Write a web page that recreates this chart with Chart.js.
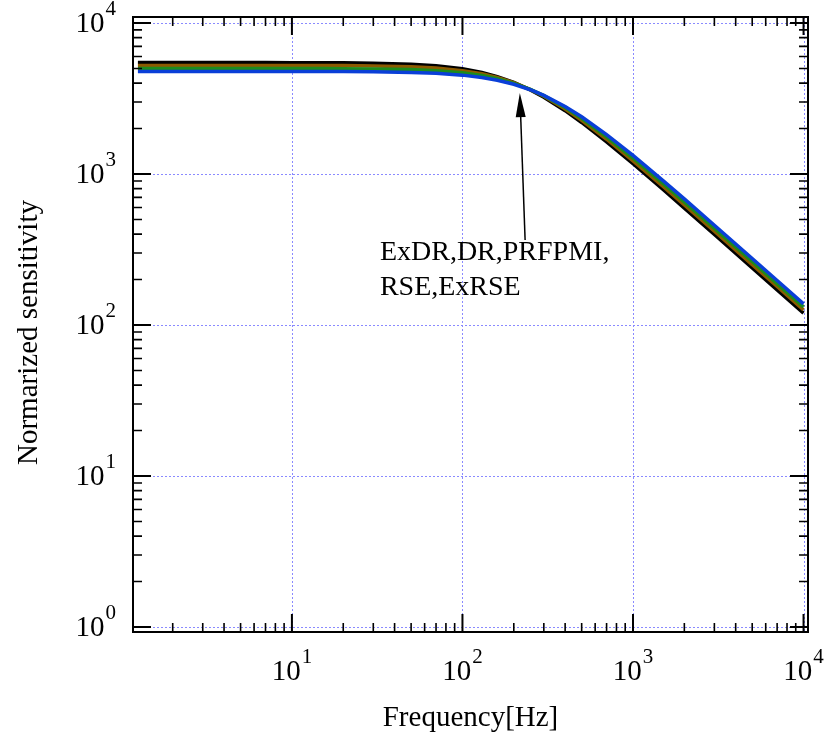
<!DOCTYPE html>
<html>
<head>
<meta charset="utf-8">
<script src="https://cdn.jsdelivr.net/npm/chart.js@4.4.1/dist/chart.umd.min.js"></script>
<style>
html,body{margin:0;padding:0;background:#fff;}
canvas{display:block;}
</style>
</head>
<body>
<canvas id="c" width="828" height="743"></canvas>
<script>
// ---- data ----
const frequencies = [1.25, 2, 3, 5, 7, 10, 15, 20, 30, 50, 70, 100, 130, 160, 200, 250, 300, 400, 500, 700, 1000, 1500, 2000, 3000, 5000, 7000, 10000];
const seriesBlue  = [4780, 4780, 4780, 4779, 4778, 4777, 4774, 4769, 4754, 4710, 4646, 4517, 4359, 4182, 3931, 3615, 3316, 2799, 2392, 1824, 1327, 904, 684, 458, 276, 197, 138];
const seriesGreen = [5000, 5000, 5000, 4999, 4998, 4996, 4992, 4986, 4968, 4913, 4833, 4676, 4486, 4276, 3985, 3630, 3303, 2754, 2335, 1764, 1276, 867, 654, 438, 264, 188, 132];
const seriesBrown = [5240, 5240, 5240, 5239, 5238, 5235, 5230, 5222, 5200, 5130, 5030, 4837, 4607, 4360, 4025, 3629, 3273, 2696, 2267, 1699, 1223, 828, 624, 418, 251, 180, 126];
const seriesBlack = [5470, 5470, 5469, 5469, 5467, 5464, 5457, 5447, 5419, 5333, 5210, 4976, 4704, 4417, 4039, 3604, 3225, 2627, 2195, 1633, 1170, 790, 595, 398, 239, 171, 120];
const seriesNames = ['ExRSE', 'RSE', 'PRFPMI', 'ExDR'];
const xDecades = [1, 2, 3, 4];
const yDecades = [0, 1, 2, 3, 4];
const xTitle = 'Frequency[Hz]';
const yTitle = 'Normarized sensitivity';
const annotationLines = ['ExDR,DR,PRFPMI,', 'RSE,ExRSE'];
const arrowTip = [217, 3435];
const arrowTail = [233, 366];
const textAnchor = [32.8, 270];

const toPts = arr => frequencies.map((f, i) => ({x: f, y: arr[i]}));
const mk = (label, arr, color) => ({
  label, data: toPts(arr), borderColor: color, backgroundColor: color,
  borderWidth: 3.5, pointRadius: 0, tension: 0, fill: false
});

const serif = '"Liberation Serif","Times New Roman",serif';

const decor = {
  id: 'decor',
  beforeDatasetsDraw(chart) {
    const {ctx, chartArea: a, scales: {x, y}} = chart;
    ctx.save();
    ctx.strokeStyle = '#8a8aff';
    ctx.lineWidth = 1;
    ctx.setLineDash([2, 2]);
    xDecades.forEach(d => {
      const px = Math.round(x.getPixelForValue(Math.pow(10, d))) + 0.5;
      ctx.beginPath(); ctx.moveTo(px, a.top); ctx.lineTo(px, a.bottom); ctx.stroke();
    });
    yDecades.forEach(d => {
      const py = Math.round(y.getPixelForValue(Math.pow(10, d))) + 0.5;
      ctx.beginPath(); ctx.moveTo(a.left, py); ctx.lineTo(a.right, py); ctx.stroke();
    });
    ctx.restore();
  },
  afterDatasetsDraw(chart) {
    const {ctx, chartArea: a, scales: {x, y}} = chart;
    ctx.save();
    ctx.strokeStyle = '#000';
    // ticks
    const xmin = x.min, xmax = x.max, ymin = y.min, ymax = y.max;
    for (let d = -1; d <= 5; d++) {
      for (let m = 1; m <= 9; m++) {
        const v = m * Math.pow(10, d);
        const major = m === 1;
        const len = major ? 18 : 9;
        ctx.lineWidth = major ? 2 : 1.6;
        if (v > xmin && v < xmax) {
          const px = x.getPixelForValue(v);
          ctx.beginPath();
          ctx.moveTo(px, a.bottom); ctx.lineTo(px, a.bottom - len);
          ctx.moveTo(px, a.top); ctx.lineTo(px, a.top + len);
          ctx.stroke();
        }
        if (v > ymin && v < ymax) {
          const py = y.getPixelForValue(v);
          ctx.beginPath();
          ctx.moveTo(a.left, py); ctx.lineTo(a.left + len, py);
          ctx.moveTo(a.right, py); ctx.lineTo(a.right - len, py);
          ctx.stroke();
        }
      }
    }
    // frame
    ctx.lineWidth = 2;
    ctx.strokeRect(a.left, a.top, a.right - a.left, a.bottom - a.top);

    // tick labels
    ctx.fillStyle = '#000';
    ctx.textBaseline = 'middle';
    const bigF = '29px ' + serif, supF = '21px ' + serif;
    xDecades.forEach(d => {
      const px = x.getPixelForValue(Math.pow(10, d));
      ctx.font = bigF; const w1 = ctx.measureText('10').width;
      ctx.font = supF; const w2 = ctx.measureText(String(d)).width;
      const sx = px - (w1 + w2 + 1) / 2;
      ctx.textAlign = 'left';
      ctx.font = bigF; ctx.fillText('10', sx, a.bottom + 40);
      ctx.font = supF; ctx.fillText(String(d), sx + w1 + 1, a.bottom + 25);
    });
    yDecades.forEach(d => {
      const py = y.getPixelForValue(Math.pow(10, d));
      ctx.font = supF; const w2 = ctx.measureText(String(d)).width;
      const right = a.left - 17;
      ctx.textAlign = 'right';
      ctx.font = supF; ctx.fillText(String(d), right, py - 14);
      ctx.font = bigF; ctx.fillText('10', right - w2 - 1, py + 1);
    });

    // axis titles
    ctx.font = '29px ' + serif;
    ctx.textAlign = 'center';
    ctx.fillText(xTitle, (a.left + a.right) / 2, 718);
    ctx.save();
    ctx.translate(29, (a.top + a.bottom) / 2 + 8);
    ctx.rotate(-Math.PI / 2);
    ctx.fillText(yTitle, 0, 0);
    ctx.restore();

    // arrow
    const tx = x.getPixelForValue(arrowTip[0]), ty = y.getPixelForValue(arrowTip[1]);
    const bx = x.getPixelForValue(arrowTail[0]), by = y.getPixelForValue(arrowTail[1]);
    const ang = Math.atan2(ty - by, tx - bx);
    const hl = 24, hw = 5;
    const hx = tx - hl * Math.cos(ang), hy = ty - hl * Math.sin(ang);
    ctx.lineWidth = 1.5;
    ctx.beginPath(); ctx.moveTo(bx, by); ctx.lineTo(hx, hy); ctx.stroke();
    ctx.beginPath();
    ctx.moveTo(tx, ty);
    ctx.lineTo(hx + hw * Math.sin(ang), hy - hw * Math.cos(ang));
    ctx.lineTo(hx - hw * Math.sin(ang), hy + hw * Math.cos(ang));
    ctx.closePath(); ctx.fill();

    // annotation text
    ctx.font = '28px ' + serif;
    ctx.textAlign = 'left';
    ctx.textBaseline = 'alphabetic';
    const ax = x.getPixelForValue(textAnchor[0]), ay = y.getPixelForValue(textAnchor[1]);
    annotationLines.forEach((t, i) => ctx.fillText(t, ax, ay + i * 35));
    ctx.restore();
  }
};

new Chart(document.getElementById('c'), {
  type: 'line',
  data: {
    datasets: [
      mk(seriesNames[0], seriesBlue, '#0a3fd8'),
      mk(seriesNames[1], seriesGreen, '#1c8c1c'),
      mk(seriesNames[2], seriesBrown, '#8c5a00'),
      mk(seriesNames[3], seriesBlack, '#000000')
    ]
  },
  options: {
    responsive: false,
    animation: false,
    devicePixelRatio: 1,
    layout: {padding: {left: 133, top: 17, right: 20, bottom: 111}},
    plugins: {legend: {display: false}, tooltip: {enabled: false}},
    scales: {
      x: {type: 'logarithmic', min: 1.17, max: 10620, display: false},
      y: {type: 'logarithmic', min: 0.927, max: 10960, display: false}
    }
  },
  plugins: [decor]
});
</script>
</body>
</html>
